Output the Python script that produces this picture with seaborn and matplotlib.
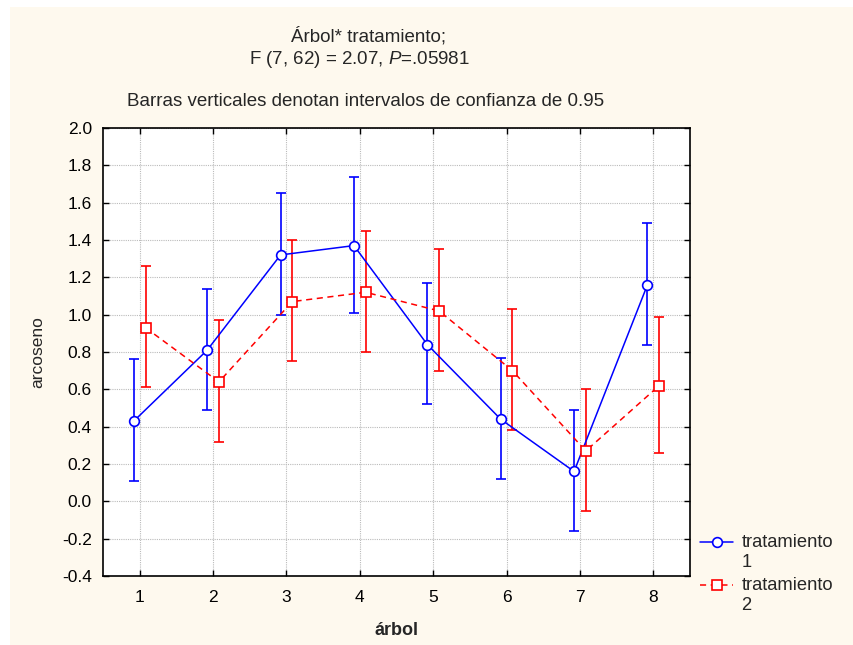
import numpy as np
import pandas as pd
import matplotlib
matplotlib.use("Agg")
import matplotlib.pyplot as plt
from matplotlib.patches import Rectangle
import seaborn as sns

# ---- data ----
arbol = [1, 2, 3, 4, 5, 6, 7, 8]
t1_mean = [0.43, 0.81, 1.32, 1.37, 0.84, 0.44, 0.16, 1.16]
t1_low = [0.11, 0.49, 1.00, 1.01, 0.52, 0.12, -0.16, 0.84]
t1_high = [0.76, 1.14, 1.65, 1.74, 1.17, 0.77, 0.49, 1.49]
t2_mean = [0.93, 0.64, 1.07, 1.12, 1.02, 0.70, 0.27, 0.62]
t2_low = [0.61, 0.32, 0.75, 0.80, 0.70, 0.38, -0.05, 0.26]
t2_high = [1.26, 0.97, 1.40, 1.45, 1.35, 1.03, 0.60, 0.99]
yticks = [-0.4, -0.2, 0.0, 0.2, 0.4, 0.6, 0.8, 1.0, 1.2, 1.4, 1.6, 1.8, 2.0]
series_labels = ["tratamiento\n1", "tratamiento\n2"]

sns.set_theme(style="white")
plt.rcParams["font.family"] = ["Liberation Sans", "DejaVu Sans"]
plt.rcParams["mathtext.fontset"] = "custom"
plt.rcParams["mathtext.it"] = "Liberation Sans:italic"
plt.rcParams["mathtext.rm"] = "Liberation Sans"

fig = plt.figure(figsize=(8.54, 6.45), dpi=100)
fig.patch.set_facecolor("white")
fig.patches.append(Rectangle((10 / 854, 0), 1 - 10 / 854, 1 - 7 / 645,
                             transform=fig.transFigure, facecolor="#FEF9EE",
                             edgecolor="none", zorder=-10))

ax = fig.add_axes([103 / 854, 1 - 576 / 645, (690 - 103) / 854, (576 - 128) / 645])
ax.set_facecolor("white")

off = 0.08
df1 = pd.DataFrame({"x": np.array(arbol) - off, "y": t1_mean})
df2 = pd.DataFrame({"x": np.array(arbol) + off, "y": t2_mean})

# error bars
for df, lo, hi, col in [(df1, t1_low, t1_high, "#0000FF"), (df2, t2_low, t2_high, "#FF0000")]:
    y = np.array(df["y"])
    ax.errorbar(df["x"], y, yerr=[y - np.array(lo), np.array(hi) - y], fmt="none",
                ecolor=col, elinewidth=1.2, capsize=3.5, capthick=1.2, zorder=2)

sns.lineplot(data=df1, x="x", y="y", ax=ax, color="#0000FF", linewidth=1.1,
             marker="o", markersize=7, markerfacecolor="white",
             markeredgecolor="#0000FF", markeredgewidth=1.2,
             label=series_labels[0], zorder=3)
sns.lineplot(data=df2, x="x", y="y", ax=ax, color="#FF0000", linewidth=1.1,
             linestyle=(0, (4, 3)), marker="s", markersize=7,
             markerfacecolor="white", markeredgecolor="#FF0000",
             markeredgewidth=1.2, label=series_labels[1], zorder=3)

ax.set_xlim(0.5, 8.5)
ax.set_ylim(-0.4, 2.0)
ax.set_xticks(arbol)
ax.set_xticklabels([str(a) for a in arbol])
ax.set_yticks(yticks)
ax.set_yticklabels([f"{v:.1f}" for v in yticks])
ax.grid(True, color="#BBBBBB", linestyle=(0, (1, 1)), linewidth=0.8)
ax.set_axisbelow(True)
for s in ax.spines.values():
    s.set_color("black")
    s.set_linewidth(1.2)
ax.tick_params(direction="in", length=4, width=1, colors="black",
               labelsize=12.5, top=True, right=True, bottom=True, left=True,
               labelcolor="black")
ax.tick_params(axis="x", pad=10)
ax.tick_params(axis="y", pad=8)
ax.set_xlabel("árbol", fontsize=13, fontweight="bold", labelpad=12)
ax.set_ylabel("arcoseno", fontsize=12.5, labelpad=12)

leg = ax.legend(loc="upper left", bbox_to_anchor=(1.005, 0.11), frameon=False,
                fontsize=13.2, handlelength=1.8, handletextpad=0.45,
                labelspacing=0.35, borderaxespad=0)
# align each legend symbol with the first line of its two-line label
for h in leg.legend_handles:
    h.set_ydata(np.asarray(h.get_ydata(), dtype=float) + 7.5)

fig.text(369 / 854, 1 - 36 / 645, "Árbol* tratamiento;", ha="center", va="center", fontsize=13.5)
fig.text(359 / 854, 1 - 59 / 645, r"F (7, 62) = 2.07, $P$=.05981", ha="center", va="center", fontsize=13.5)
fig.text(366 / 854, 1 - 101 / 645, "Barras verticales denotan intervalos de confianza de 0.95",
         ha="center", va="center", fontsize=13.5)

fig.savefig("out.png", dpi=100, facecolor=fig.get_facecolor())
